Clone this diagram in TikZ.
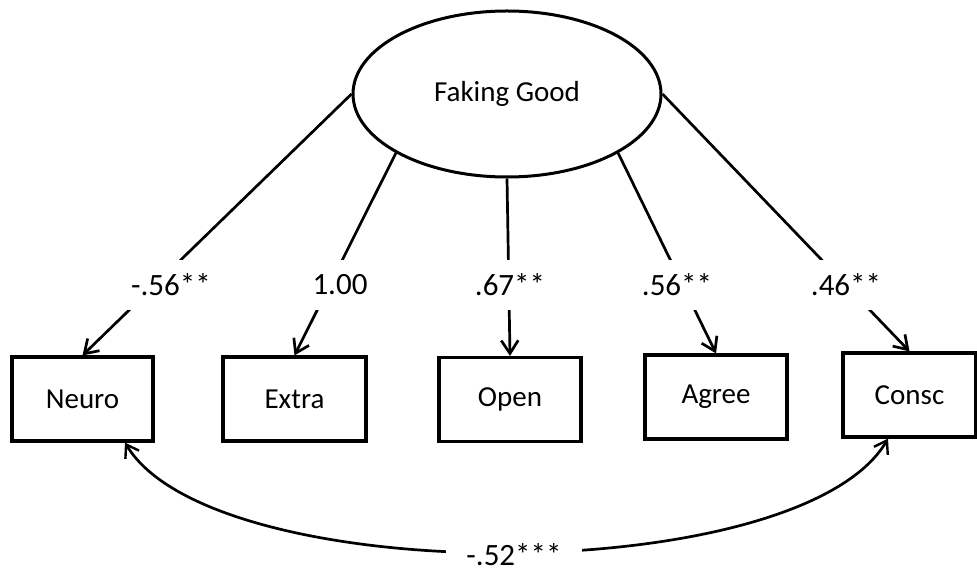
\documentclass[tikz,border=0pt]{standalone}
\usepackage{fontspec}
\setmainfont{Carlito}
\usetikzlibrary{shapes.geometric,arrows.meta}
\begin{document}
\begin{tikzpicture}[x=0.5pt,y=-0.5pt,
  latent/.style={ellipse,draw,line width=1.5pt,minimum width=154pt,minimum height=83pt,
    inner sep=0pt,font=\fontsize{14.5}{17}\selectfont},
  indicator/.style={draw,line width=1.6pt,minimum height=42pt,inner sep=0pt,
    font=\fontsize{14.5}{17}\selectfont},
  loading/.style={line width=1.35pt,-{Straight Barb[length=6.5pt,width=8.5pt,line width=1.35pt]}},
  corr/.style={line width=1.35pt,{Straight Barb[length=6pt,width=8pt,line width=1.2pt]}-{Straight Barb[length=6pt,width=8pt,line width=1.2pt]}},
  coef/.style={fill=white,inner xsep=2pt,inner ysep=0pt,minimum height=25pt,
    font=\fontsize{15.5}{18}\selectfont}]
\useasboundingbox (0,0) rectangle (977,571);

% latent factor
\node[latent] (fg) at (507,94) {Faking Good};

% observed trait scores
\node[indicator,minimum width=70.5pt] (neuro) at (82.5,399) {Neuro};
\node[indicator,minimum width=71.5pt] (extra) at (294.5,399) {Extra};
\node[indicator,minimum width=71pt]   (open)  at (510,399.5) {Open};
\node[indicator,minimum width=71pt]   (agree) at (716,397) {Agree};
\node[indicator,minimum width=66.5pt] (consc) at (909.5,395) {Consc};

% factor loadings
\draw[loading] (fg.west) -- (neuro.north);
\draw[loading] (fg.208) -- (extra.north);
\draw[loading] (fg.south) -- (open.north);
\draw[loading] (fg.332) -- (agree.north);
\draw[loading] (fg.east) -- (consc.north);

\node[coef] (l1) at (171,285) {-.56**};
\node[coef] (l2) at (340,285) {1.00};
\node[coef] (l3) at (510,285) {.67**};
\node[coef] (l4) at (677,285) {.56**};
\node[coef] (l5) at (846,285) {.46**};

% residual correlation
\draw[corr] ([xshift=21.25pt]neuro.south) .. controls (213,590) and (800,589) .. ([xshift=-10.75pt]consc.south);
\node[coef,inner xsep=10pt] (r) at (514,555) {-.52***};
\end{tikzpicture}
\end{document}
